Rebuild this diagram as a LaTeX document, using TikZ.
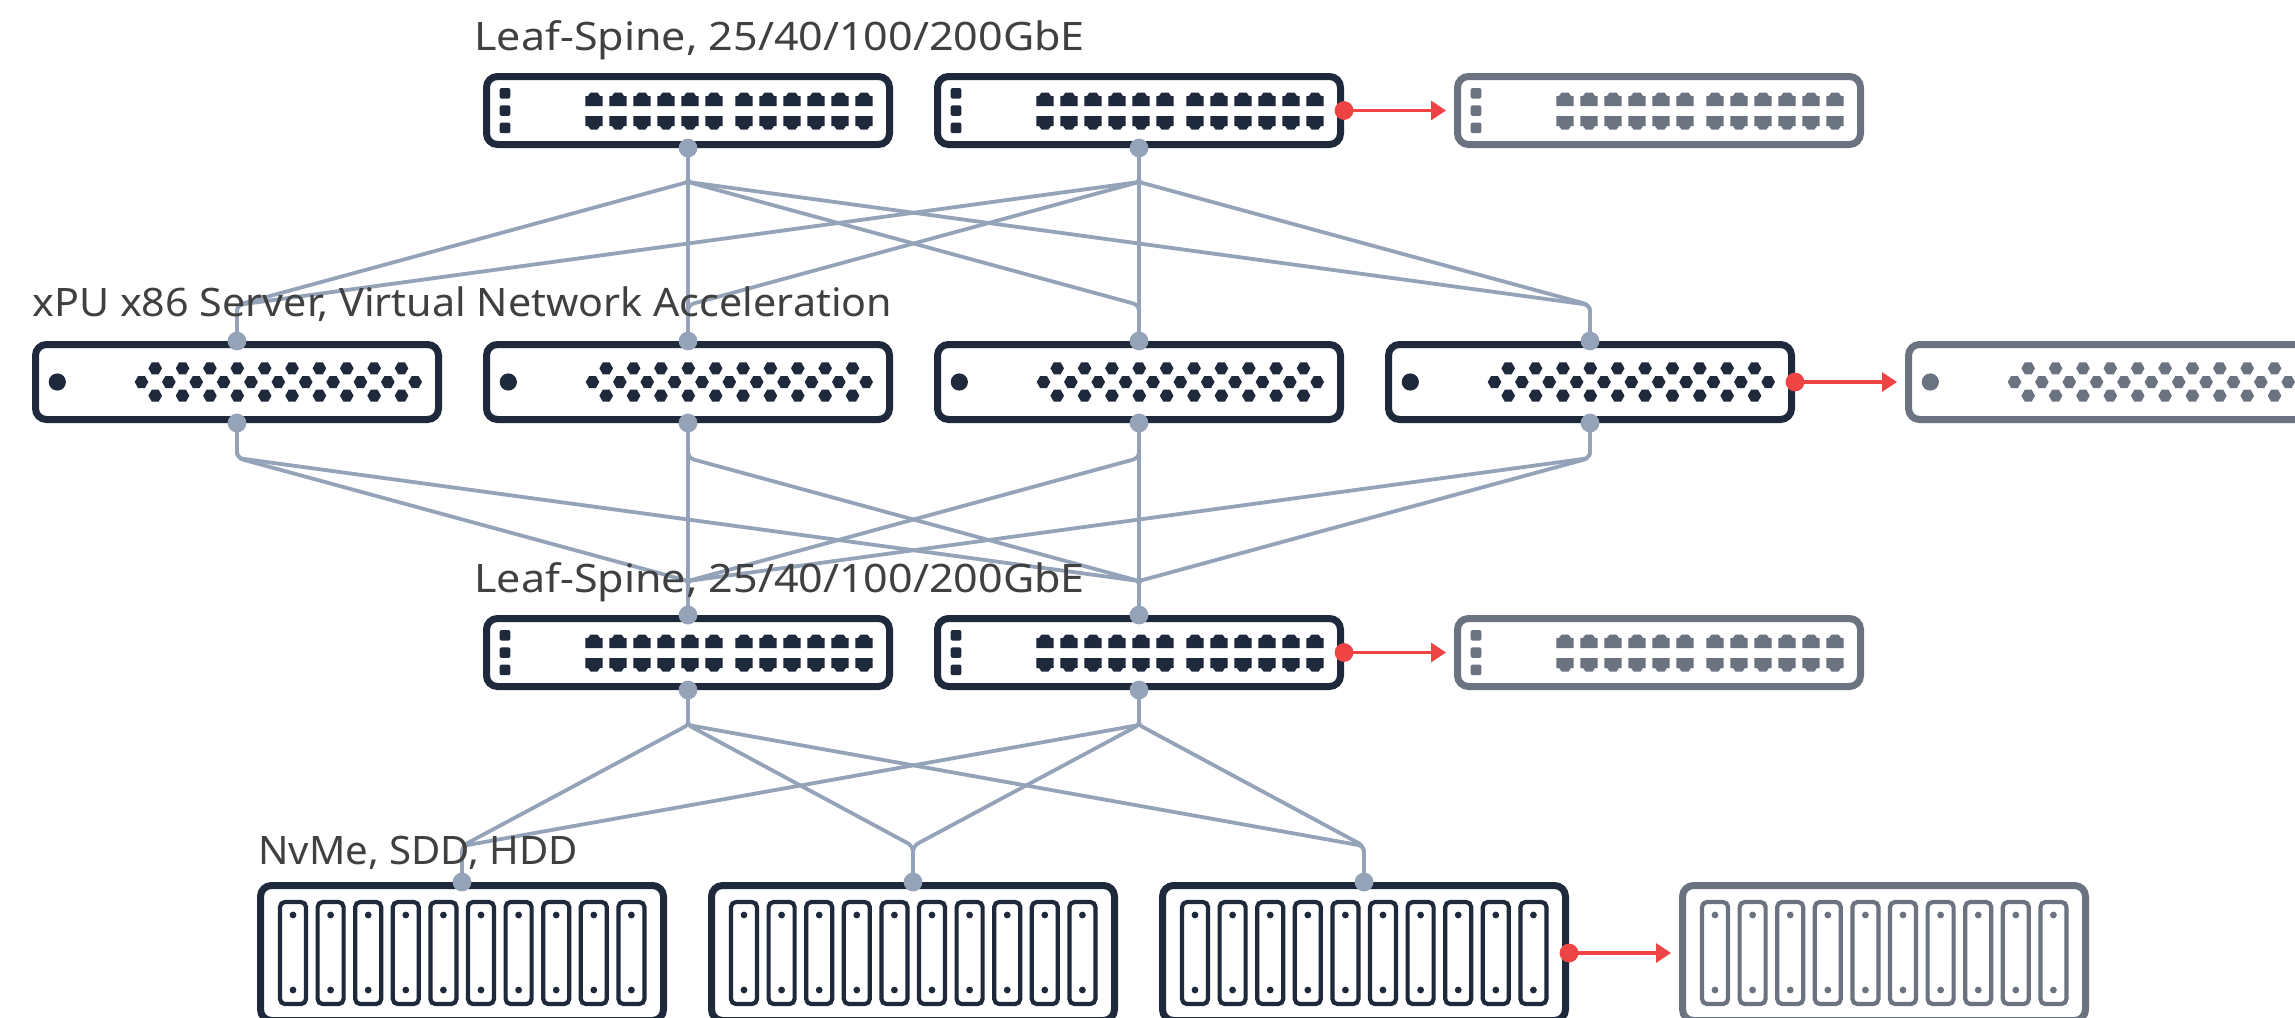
\documentclass[tikz,border=0pt]{standalone}
\usepackage{fontspec}
\setmainfont{Noto Sans}
\usetikzlibrary{calc,arrows.meta}
\definecolor{inkdark}{HTML}{1E293B}
\definecolor{inkghost}{HTML}{6B7280}
\definecolor{inkwire}{HTML}{94A3B8}
\definecolor{inkalert}{HTML}{EF4444}
\definecolor{inktext}{HTML}{404040}
\newcommand\capfont[1]{\fontsize{19.6pt}{23pt}\selectfont\addfontfeatures{FakeStretch=#1}}
\tikzset{
  x=0.5pt,y=-0.5pt,
  device/.style={draw=#1,fill=white,line width=3.5pt,rounded corners=5.5pt,rectangle,inner sep=0pt,minimum width=201.5pt},
  switchbox/.style={device=#1,minimum height=34pt},
  serverbox/.style={device=#1,minimum height=37.5pt},
  storebox/.style={device=#1,minimum height=67.5pt},
  wirepath/.style={draw=inkwire,line width=1.9pt,rounded corners=1.5pt},
  portdot/.style={circle,fill=inkwire,inner sep=0pt,minimum size=9.4pt},
  reddot/.style={circle,fill=inkalert,inner sep=0pt,minimum size=9.4pt},
  redarrow/.style={draw=inkalert,line width=1.7pt,-{Triangle[length=7.5pt,width=9.5pt,fill=inkalert]},shorten >=4pt},
  capnote/.style={anchor=base west,inner sep=0pt,text=inktext}
}
% name, left, top, colour
\newcommand\SwitchAt[4]{%
  \node[switchbox=#4] (#1) at (#2+205,#3+37.5) {};
  \foreach \k in {0,1,2} \fill[#4,rounded corners=1pt] (#2+22-5.3,#3+15+17.3*\k) rectangle ++(10.6,10.6);
  \foreach \p in {111,135,159,183,207,231,261,285,309,333,357,381}{
    \fill[#4] (#2+\p-8.7,#3+33) -- ++(0,-10) -- ++(2.7,0) -- ++(2.5,-3.5) -- ++(7,0) -- ++(2.5,3.5) -- ++(2.7,0) -- ++(0,10) -- cycle;
    \fill[#4] (#2+\p-8.7,#3+43) -- ++(0,10) -- ++(2.7,0) -- ++(2.5,3.5) -- ++(7,0) -- ++(2.5,-3.5) -- ++(2.7,0) -- ++(0,-10) -- cycle;
  }}
\newcommand\HexAt[3]{\fill[#3] (#1-6.8,#2) -- ++(3.4,-6) -- ++(6.8,0) -- ++(3.4,6) -- ++(-3.4,6) -- ++(-6.8,0) -- cycle;}
\newcommand\ServerAt[4]{%
  \node[serverbox=#4] (#1) at (#2+205,#3+41) {};
  \fill[#4] (#2+25.3,#3+41) circle[radius=8.6];
  \foreach \k in {0,...,10} {\HexAt{#2+109.5+27.37*\k}{#3+41}{#4}}
  \foreach \k in {0,...,9} {\HexAt{#2+123.2+27.37*\k}{#3+27.3}{#4}\HexAt{#2+123.2+27.37*\k}{#3+54.7}{#4}}
  }
\newcommand\StoreAt[4]{%
  \node[storebox=#4] (#1) at (#2+205,#3+71) {};
  \foreach \k in {0,...,9} {
    \draw[#4,line width=2.1pt,rounded corners=2.5pt] (#2+23+37.6*\k,#3+20) rectangle ++(26,102);
    \fill[#4] (#2+36+37.6*\k,#3+33) circle[radius=3.4] (#2+36+37.6*\k,#3+108) circle[radius=3.4];
  }}
\begin{document}
\begin{tikzpicture}
\useasboundingbox (0,0) rectangle (2295,1017);
\clip (0,0) rectangle (2295,1017);
% devices
\SwitchAt{ta}{483}{73}{inkdark}
\SwitchAt{tb}{934}{73}{inkdark}
\SwitchAt{tg}{1454}{73}{inkghost}
\ServerAt{sa}{32}{341}{inkdark}
\ServerAt{sb}{483}{341}{inkdark}
\ServerAt{sc}{934}{341}{inkdark}
\ServerAt{sd}{1385}{341}{inkdark}
\ServerAt{sg}{1905}{341}{inkghost}
\SwitchAt{la}{483}{615}{inkdark}
\SwitchAt{lb}{934}{615}{inkdark}
\SwitchAt{lg}{1454}{615}{inkghost}
\StoreAt{da}{257}{882}{inkdark}
\StoreAt{db}{708}{882}{inkdark}
\StoreAt{dc}{1159}{882}{inkdark}
\StoreAt{dg}{1679}{882}{inkghost}
% bend points
\foreach \n in {ta,tb} {\coordinate (\n o) at ($(\n.south)+(0,34)$);}
\foreach \n in {sa,sb,sc,sd} {
  \coordinate (\n i) at ($(\n.north)+(0,-36)$);
  \coordinate (\n o) at ($(\n.south)+(0,35)$);
}
\foreach \n in {la,lb} {
  \coordinate (\n i) at ($(\n.north)+(0,-34)$);
  \coordinate (\n o) at ($(\n.south)+(0,35)$);
}
\foreach \n in {da,db,dc} {\coordinate (\n i) at ($(\n.north)+(0,-36)$);}
% connectors
\foreach \a in {ta,tb} \foreach \b in {sa,sb,sc,sd} {
  \draw[wirepath] (\a.south) -- (\a o) [rounded corners=3pt] -- (\b i) -- (\b.north);}
\foreach \a in {sa,sb,sc,sd} \foreach \b in {la,lb} {
  \draw[wirepath,rounded corners=3pt] (\a.south) -- (\a o) [rounded corners=1.5pt] -- (\b i) -- (\b.north);}
\foreach \a in {la,lb} \foreach \b in {da,db,dc} {
  \draw[wirepath] (\a.south) -- (\a o) [rounded corners=3pt] -- (\b i) -- (\b.north);}
% captions
\node[capnote] (cap1) at (474,50) {\capfont{1.098}Leaf-Spine, 25/40/100/200GbE};
\node[capnote] (cap2) at (32,316) {\capfont{1.053}xPU x86 Server, Virtual Network Acceleration};
\node[capnote] (cap3) at (474,592) {\capfont{1.098}Leaf-Spine, 25/40/100/200GbE};
\node[capnote] (cap4) at (258,864) {\capfont{1.024}NvMe, SDD, HDD};
% port dots
\foreach \n in {ta,tb,sa,sb,sc,sd,la,lb} {\node[portdot] (\n dotb) at (\n.south) {};}
\foreach \n in {sa,sb,sc,sd,la,lb,da,db,dc} {\node[portdot] (\n dott) at (\n.north) {};}
% overflow arrows
\foreach \a/\b in {tb/tg,sd/sg,lb/lg,dc/dg} {
  \draw[redarrow] (\a.east) -- (\b.west);
  \node[reddot] (\a red) at (\a.east) {};
}
\end{tikzpicture}
\end{document}
